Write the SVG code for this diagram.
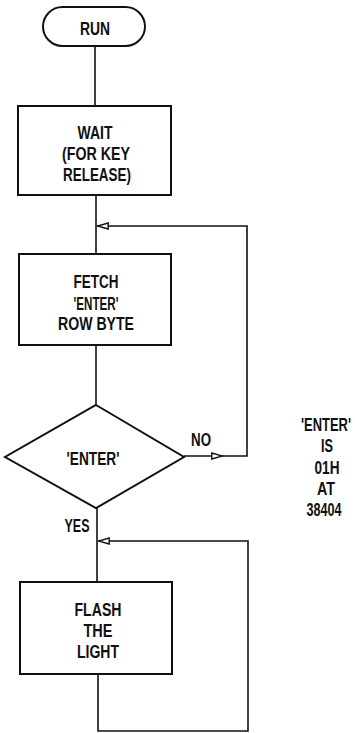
<svg xmlns="http://www.w3.org/2000/svg" width="355" height="733" viewBox="0 0 355 733">
<style>
.shape{fill:#fff;stroke:#111;stroke-width:2}
.line{fill:none;stroke:#111;stroke-width:1.6}
text{font-family:"Liberation Sans",Arial,sans-serif;font-weight:bold;font-size:18px;fill:#111;text-anchor:middle}
.note{font-size:19px}
</style>
<defs>
<marker id="arr" viewBox="0 0 12 8" refX="12" refY="4" markerWidth="12" markerHeight="8" markerUnits="userSpaceOnUse" orient="auto">
<path d="M0.8,1 L11.5,4 L0.8,7 Z" fill="#fff" stroke="#111" stroke-width="1.4"/>
</marker>
</defs>
<rect width="355" height="733" fill="#fff"/>
<g id="connectors">
<line class="line" x1="95" y1="46" x2="95" y2="106"/>
<line class="line" x1="96" y1="195" x2="96" y2="254"/>
<line class="line" x1="96" y1="345" x2="96" y2="405"/>
<line class="line" x1="97" y1="508" x2="97" y2="582"/>
<line class="line" x1="184" y1="456" x2="223" y2="456" marker-end="url(#arr)"/>
<path class="line" d="M222,456 H247 V226 H97" marker-end="url(#arr)"/>
<path class="line" d="M98,674 V731 H248 V541 H98" marker-end="url(#arr)"/>
</g>
<g id="run">
<rect class="shape" x="43" y="7" width="102" height="39" rx="19.5"/>
<text x="95" y="35" textLength="30" lengthAdjust="spacingAndGlyphs">RUN</text>
</g>
<g id="wait">
<rect class="shape" x="18" y="106" width="153" height="89"/>
<text x="95" y="139" textLength="35" lengthAdjust="spacingAndGlyphs">WAIT</text>
<text x="96" y="160" textLength="68" lengthAdjust="spacingAndGlyphs">(FOR KEY</text>
<text x="97" y="181" textLength="68" lengthAdjust="spacingAndGlyphs">RELEASE)</text>
</g>
<g id="fetch">
<rect class="shape" x="19" y="254" width="152" height="91"/>
<text x="96" y="288" textLength="45" lengthAdjust="spacingAndGlyphs">FETCH</text>
<text x="96" y="310" textLength="45" lengthAdjust="spacingAndGlyphs">'ENTER'</text>
<text x="96" y="330" textLength="76" lengthAdjust="spacingAndGlyphs">ROW BYTE</text>
</g>
<g id="decision">
<polygon class="shape" points="96,405 184,457 96,508 5,457"/>
<text x="93" y="465" textLength="53" lengthAdjust="spacingAndGlyphs">'ENTER'</text>
<text x="201" y="446" textLength="20" lengthAdjust="spacingAndGlyphs">NO</text>
<text x="77" y="532" textLength="25" lengthAdjust="spacingAndGlyphs">YES</text>
</g>
<g id="flash">
<rect class="shape" x="20" y="582" width="152" height="92"/>
<text x="98" y="616" textLength="47" lengthAdjust="spacingAndGlyphs">FLASH</text>
<text x="98" y="637" textLength="29" lengthAdjust="spacingAndGlyphs">THE</text>
<text x="98" y="658" textLength="42" lengthAdjust="spacingAndGlyphs">LIGHT</text>
</g>
<g id="note">
<text class="note" x="326" y="431" textLength="50" lengthAdjust="spacingAndGlyphs">'ENTER'</text>
<text class="note" x="327" y="452" textLength="12" lengthAdjust="spacingAndGlyphs">IS</text>
<text class="note" x="327" y="474" textLength="25" lengthAdjust="spacingAndGlyphs">01H</text>
<text class="note" x="326" y="495" textLength="18" lengthAdjust="spacingAndGlyphs">AT</text>
<text class="note" x="324" y="516" textLength="35" lengthAdjust="spacingAndGlyphs">38404</text>
</g>
</svg>
